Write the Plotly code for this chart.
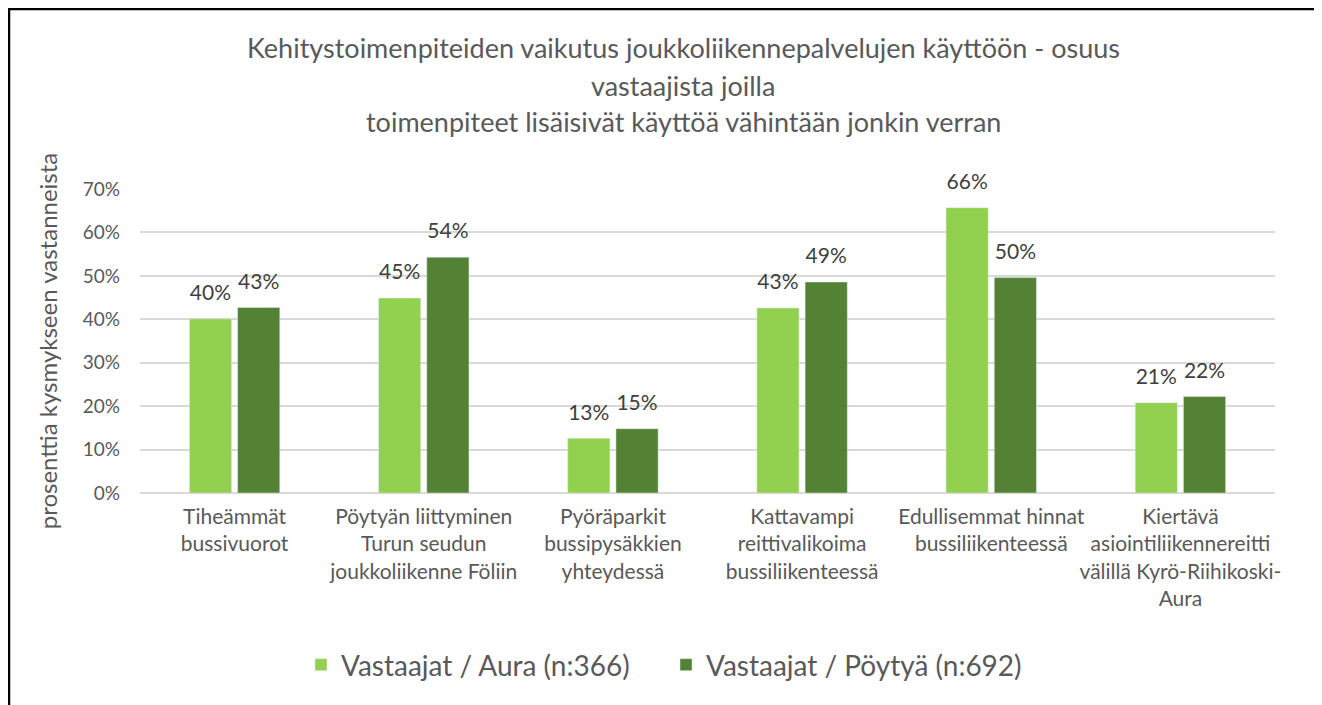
import plotly.graph_objects as go

categories = [
    "Tiheämmät<br>bussivuorot",
    "Pöytyän liittyminen<br>Turun seudun<br>joukkoliikenne Föliin",
    "Pyöräparkit<br>bussipysäkkien<br>yhteydessä",
    "Kattavampi<br>reittivalikoima<br>bussiliikenteessä",
    "Edullisemmat hinnat<br>bussiliikenteessä",
    "Kiertävä<br>asiointiliikennereitti<br>välillä Kyrö-Riihikoski-<br>Aura",
]
aura = [0.401, 0.449, 0.126, 0.426, 0.657, 0.208]
poytya = [0.427, 0.543, 0.148, 0.486, 0.496, 0.222]
series_names = ["Vastaajat / Aura (n:366)", "Vastaajat / Pöytyä (n:692)"]
colors = ["#92d050", "#548235"]
title_lines = [
    "Kehitystoimenpiteiden vaikutus joukkoliikennepalvelujen käyttöön - osuus",
    "vastaajista joilla",
    "toimenpiteet lisäisivät käyttöä vähintään jonkin verran",
]
y_title = "prosenttia kysmykseen vastanneista"

FONT = "Lato"
GREY = "#595959"

OFF = 8  # page offset of the figure
W, H = 1314, 697
# desired plot area in page pixels: x 140..1275, y 189..493
L = 140 - OFF
T = 189 - OFF
R = W - (1275 - OFF)
B = H - (493 - OFF)
pw, ph = W - L - R, H - T - B

def px_x(x):
    return (x - OFF - L) / pw

def px_y(y):
    return (H - B - (y - OFF)) / ph

BARGAP = 0.49

fig = go.Figure()
for i, (name, vals, col) in enumerate(zip(series_names, [aura, poytya], colors)):
    fig.add_trace(go.Bar(
        x=categories, y=vals, name=name, marker_color=col,
        offsetgroup=str(i), cliponaxis=False,
    ))
for i, vals in enumerate([aura, poytya]):
    fig.add_trace(go.Scatter(
        x=categories, y=vals, mode="markers+text",
        text=[f"{round(v * 100)}%" for v in vals],
        textposition="top center",
        textfont=dict(family=FONT, size=21, color="#404040"),
        marker=dict(size=20, color="rgba(0,0,0,0)"),
        offsetgroup=str(i), showlegend=False, hoverinfo="skip", cliponaxis=False,
    ))

annotations = []
for line, yy in zip(title_lines, [48, 85, 122]):
    annotations.append(dict(
        text=line, xref="paper", yref="paper", x=px_x(683), y=px_y(yy),
        xanchor="center", yanchor="middle", showarrow=False,
        font=dict(family=FONT, size=27, color=GREY),
    ))

# frame (left and top edges) drawn at the figure edge
shapes = [
    dict(type="line", xref="paper", yref="paper", x0=px_x(OFF + 1), x1=px_x(1340),
         y0=px_y(OFF + 1), y1=px_y(OFF + 1), line=dict(color="black", width=2.5)),
    dict(type="line", xref="paper", yref="paper", x0=px_x(OFF + 1), x1=px_x(OFF + 1),
         y0=px_y(OFF), y1=px_y(720), line=dict(color="black", width=2.5)),
]

fig.update_layout(
    width=W, height=H,
    margin=dict(l=L, r=R, t=T, b=B),
    paper_bgcolor="white", plot_bgcolor="white",
    barmode="group", bargap=BARGAP, bargroupgap=0.125,
    scattermode="group", scattergap=BARGAP,
    font=dict(family=FONT, color=GREY),
    annotations=annotations, shapes=shapes,
    legend=dict(
        orientation="h", x=px_x(301), xanchor="left", y=px_y(665), yanchor="middle",
        font=dict(family=FONT, size=28, color=GREY), entrywidth=320,
    ),
    showlegend=True,
)
fig.update_yaxes(
    range=[0, 0.7], dtick=0.1, tickformat=".0%",
    showgrid=True, gridcolor="#d9d9d9", gridwidth=1.5,
    zeroline=True, zerolinecolor="#d9d9d9", zerolinewidth=1.5,
    tickfont=dict(family=FONT, size=19, color=GREY),
    title=dict(text=y_title, font=dict(family=FONT, size=24, color=GREY), standoff=18),
    ticks="", ticklabelstandoff=19,
)
fig.update_xaxes(
    tickfont=dict(family=FONT, size=21, color=GREY),
    showline=False, ticks="", tickangle=0, ticklabelstandoff=9,
)

fig.write_html("out.html")
